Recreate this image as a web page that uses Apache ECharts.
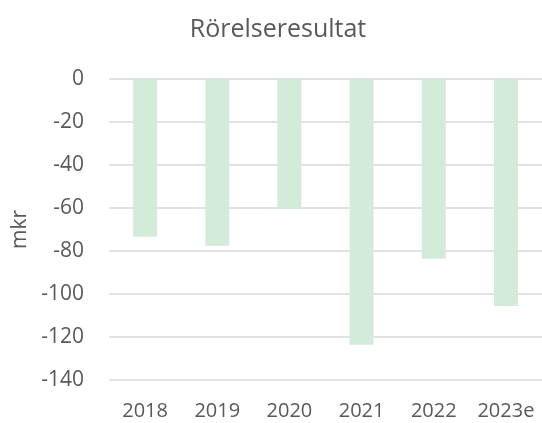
<!DOCTYPE html>
<html>
<head>
<meta charset="utf-8">
<script src="https://cdn.jsdelivr.net/npm/echarts@6/dist/echarts.min.js"></script>
<style>
  html, body { margin: 0; padding: 0; background: #fff; }
  #main { width: 542px; height: 423px; }
</style>
</head>
<body>
<div id="main"></div>
<script>
var years = ['2018', '2019', '2020', '2021', '2022', '2023e'];
var result = [-73.4, -77.5, -60.4, -123.6, -83.6, -105.6];
var yTicks = { min: -140, max: 0, step: 20 };

var myChart = echarts.init(document.getElementById('main'));

var textColor = '#595959';
var font = 'Open Sans';

var option = {
    animation: false,
    title: {
        text: 'Rörelseresultat',
        left: 273,
        textAlign: 'center',
        top: 12,
        textStyle: {
            fontFamily: font,
            fontSize: 25,
            fontWeight: 'normal',
            color: textColor
        }
    },
    grid: {
        left: 109,
        right: -3,
        top: 79,
        bottom: 43,
        containLabel: false
    },
    xAxis: {
        type: 'category',
        data: years,
        position: 'bottom',
        axisLine: { show: false },
        axisTick: { show: false },
        axisLabel: {
            interval: 0,
            hideOverlap: false,
            margin: 21,
            fontFamily: font,
            fontSize: 20,
            color: textColor
        }
    },
    yAxis: {
        type: 'value',
        min: yTicks.min,
        max: yTicks.max,
        interval: yTicks.step,
        name: 'mkr',
        nameLocation: 'middle',
        nameGap: 78,
        nameTextStyle: {
            fontFamily: font,
            fontSize: 21,
            color: textColor
        },
        axisLine: { show: false },
        axisTick: { show: false },
        axisLabel: {
            margin: 25,
            fontFamily: font,
            fontSize: 21,
            color: textColor
        },
        splitLine: {
            lineStyle: { color: '#d9d9d9', width: 1.5 }
        }
    },
    series: [{
        name: 'Rörelseresultat',
        type: 'bar',
        data: result,
        barWidth: 24,
        itemStyle: { color: '#d3ebd9' }
    }]
};

myChart.setOption(option);
</script>
</body>
</html>
